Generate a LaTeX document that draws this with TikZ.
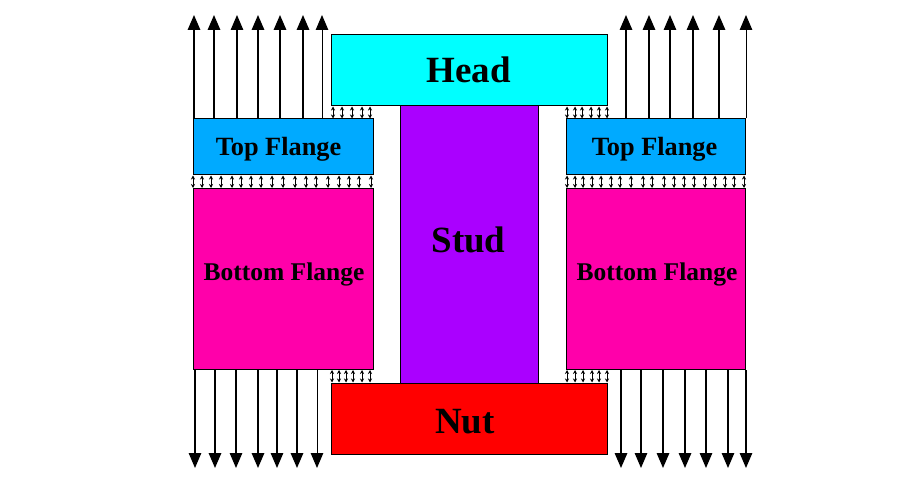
\documentclass[tikz,border=0pt]{standalone}
\usepackage{fontspec}
\setmainfont{Liberation Serif}
\usetikzlibrary{arrows.meta}
\definecolor{headcol}{HTML}{00FFFF}
\definecolor{topcol}{HTML}{00AAFF}
\definecolor{botcol}{HTML}{FF00AA}
\definecolor{studcol}{HTML}{AA00FF}
\definecolor{nutcol}{HTML}{FF0000}
\begin{document}
\begin{tikzpicture}
	[x=1pt,y=-1pt,
	box/.style={draw,line width=1pt,inner sep=0pt},
	large/.style={font=\fontsize{37}{37}\selectfont\bfseries},
	small/.style={font=\fontsize{25.5}{25.5}\selectfont\bfseries},
	pull/.style={-{Triangle[length=15pt,width=12.5pt]}},
	contact/.style={{Stealth[length=4pt,width=4pt]}-{Stealth[length=4pt,width=4pt]},line width=0.9pt}]
	\useasboundingbox (0,0) rectangle (910,478);
	\node[box,name=stud,fill=studcol,minimum width=138pt,minimum height=279pt] at (469,244.5) {};
	\node[box,name=head,fill=headcol,minimum width=276pt,minimum height=71pt] at (469,70.5) {};
	\node[box,name=nut,fill=nutcol,minimum width=276pt,minimum height=71pt] at (469,418.5) {};
	\node[box,name=topl,fill=topcol,minimum width=180pt,minimum height=56pt] at (283,147) {};
	\node[box,name=botl,fill=botcol,minimum width=180pt,minimum height=181pt] at (283,279) {};
	\node[box,name=topr,fill=topcol,minimum width=179pt,minimum height=56pt] at (655.5,147) {};
	\node[box,name=botr,fill=botcol,minimum width=179pt,minimum height=181pt] at (655.5,279) {};
	\node[large,name=headtext] at (468.5,70) {Head};
	\node[large,name=studtext] at (468.5,240) {Stud};
	\node[large,name=nuttext] at (465,422) {Nut};
	\node[small,name=topltext,font=\fontsize{26.3}{26.3}\selectfont\bfseries] at (278.5,149) {Top Flange};
	\node[small,name=botltext] at (284,274) {Bottom Flange};
	\node[small,name=toprtext,font=\fontsize{26.3}{26.3}\selectfont\bfseries] at (654.5,149) {Top Flange};
	\node[small,name=botrtext] at (657,274) {Bottom Flange};
	% bolt load
	\foreach \x/\w in {194/1.6,214/1.6,237/1.2,258/1.6,280/1.6,303/1.6,322/1,626/1.6,649/1.6,670/1.2,693/1.2,719/1.6,746/1}{
		\coordinate (tip) at (\x,15);
		\draw[pull,line width=\w pt] (tip |- topl.north) -- (tip);
	}
	\foreach \x/\w in {195/1.2,215/1.6,236/1.2,258/1.6,277/1.2,297/1.6,317/1,621/1.6,641/1.2,663/1.6,685/1.6,706/1.2,728/1.2,746/1.2}{
		\coordinate (tip) at (\x,468);
		\draw[pull,line width=\w pt] (tip |- botl.south) -- (tip);
	}
	% contact between head and flange
	\foreach \x in {333,342,352,362,370,567,575,582,591,599,607}{
		\coordinate (pos) at (\x,0);
		\draw[contact] (pos |- head.south) -- (pos |- topl.north);
	}
	% contact between flanges
	\foreach \x in {193,202,211,221,232,241,251,261,272,283,295,306,316,328,339,349,359,371}{
		\coordinate (pos) at (\x,0);
		\draw[contact] (pos |- topl.south) -- (pos |- botl.north);
	}
	\foreach \x in {567,575,583,592,601,611,620,631,643,652,664,674,684,694,705,715,725,734,744}{
		\coordinate (pos) at (\x,0);
		\draw[contact] (pos |- topr.south) -- (pos |- botr.north);
	}
	% contact between flange and nut
	\foreach \x in {332,339,346,353,362,370,567,575,583,592,599,607}{
		\coordinate (pos) at (\x,0);
		\draw[contact] (pos |- botl.south) -- (pos |- nut.north);
	}
\end{tikzpicture}
\end{document}
